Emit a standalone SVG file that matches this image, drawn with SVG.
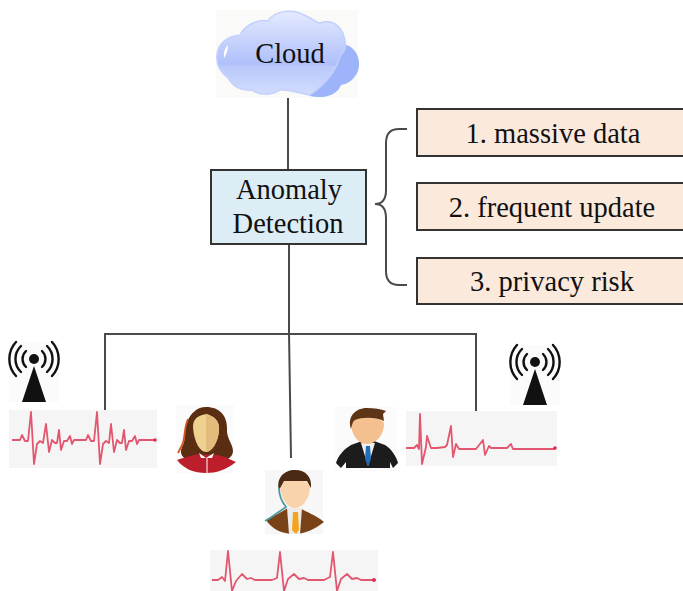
<svg xmlns="http://www.w3.org/2000/svg" width="683" height="591" viewBox="0 0 683 591">
<style>
.t{font-family:"Liberation Serif","Times New Roman",serif;font-size:28.5px;fill:#111;text-anchor:middle}
.box{stroke:#333;stroke-width:2}
.l{fill:none;stroke:#4a4a4a;stroke-width:2}
.ecg{fill:none;stroke:#e2566f;stroke-width:1.8;stroke-linejoin:round}
.bg{fill:#f5f5f5}
.wave{fill:none;stroke:#111;stroke-width:2.4;stroke-linecap:round}
</style>
<defs>
<linearGradient id="cg" x1="0" y1="0" x2="0" y2="1"><stop offset="0" stop-color="#e4eaff"/><stop offset=".64" stop-color="#aebffa"/><stop offset=".66" stop-color="#bac9fb"/><stop offset="1" stop-color="#d2dcfe"/></linearGradient>
<g id="tower">
<rect x="-25" y="-31" width="50" height="60" fill="#fbfbfb"/>
<circle cx="0" cy="-14" r="5" fill="#111"/>
<path class="wave" d="M-8-22A11 11 0 0 0-8-6M8-22A11 11 0 0 1 8-6M-13-27A18 18 0 0 0-13-1M13-27A18 18 0 0 1 13-1M-18-31A25 25 0 0 0-18 3M18-31A25 25 0 0 1 18 3"/>
<path d="M0-7L12 29H-12Z" fill="#111"/>
</g>
</defs>
<g id="connectors">
<path class="l" d="M288 97V170M289 243V333M105 410V334H476V411M289 333L291 458"/>
<path class="l" d="M407 129H399Q386 129 386 143V190Q386 204 375 204Q386 204 386 218V271Q386 285 399 285H407"/>
</g>
<g id="cloud">
<rect x="216" y="10" width="142" height="88" fill="#fafaf8"/>
<path d="M342 44C353 45 360 55 359 66C358 77 349 84 341 85C337 96 322 99 310 96L296 70Z" fill="#9db4fb"/>
<path d="M217 55C218 43 228 36 240 35C245 25 258 19 268 21C274 11 292 8 304 15C312 18 316 23 320 23C332 18 342 27 344 37C347 46 345 52 340 56C336 72 324 85 310 95C298 93 290 89 280 90C272 96 258 95 252 90C240 91 232 85 228 78C220 72 216 64 217 55Z" fill="url(#cg)" stroke="#c2d0fc" stroke-width="1.5"/>
<path d="M228 45Q223 50 224 58Q228 52 228 45Z" fill="#fff"/>
<text class="t" x="290" y="63">Cloud</text>
</g>
<g id="anomaly">
<rect class="box" x="211" y="170" width="155" height="74" fill="#dcedf5"/>
<text class="t" x="289" y="199">Anomaly</text>
<text class="t" x="288" y="233">Detection</text>
</g>
<g id="issue1">
<rect class="box" x="417" y="109" width="270" height="47" fill="#fbe9dc"/>
<text class="t" x="553" y="143">1. massive data</text>
</g>
<g id="issue2">
<rect class="box" x="417" y="183" width="270" height="47" fill="#fbe9dc"/>
<text class="t" x="552" y="217">2. frequent update</text>
</g>
<g id="issue3">
<rect class="box" x="417" y="258" width="270" height="46" fill="#fbe9dc"/>
<text class="t" x="552" y="291">3. privacy risk</text>
</g>
<g id="tower-left"><use href="#tower" x="34" y="373"/></g>
<g id="tower-right"><use href="#tower" x="535" y="376"/></g>
<g id="ecg-left">
<rect class="bg" x="9" y="410" width="148" height="58"/>
<path class="ecg" d="M12 440H20L22 435L25 441H28L31 412L34 464L37 444L40 441L43 443L46 424L49 452L52 440L55 443H57L59 430L61 450L64 441H67L70 436L72 444L74 440H86L88 435L91 441H94L97 412L100 464L103 444L106 441L109 443L111 424L114 452L117 440L120 443H122L124 430L126 450L129 441H132L135 436L137 444L139 440H155"/>
<circle cx="155" cy="440" r="1.8" fill="#d8304f"/>
</g>
<g id="ecg-right">
<rect class="bg" x="406" y="411" width="151" height="55"/>
<path class="ecg" d="M406 448H414L417 445L419 449L420 414L422 464L426 447L427 436L431 448H437L445 447L447 445L451 426L453 457L456 444L459 449H476L483 440L485 455L489 446L491 448H507L511 444L513 449H555"/>
<circle cx="555" cy="448" r="1.8" fill="#d8304f"/>
</g>
<g id="ecg-bottom">
<rect class="bg" x="210" y="550" width="168" height="41"/>
<path class="ecg" d="M212 580H218L222 577L225 581L228 551L232 591L236 581L242 574L247 579L251 578L255 580H272L277 578L280 552L284 591L288 579L294 574L299 579L304 578L308 580H324L330 577L333 552L337 591L341 579L347 574L352 579L357 578L361 580H374"/>
<circle cx="374" cy="580" r="2" fill="#d8304f"/>
</g>
<g id="woman">
<rect x="176" y="405" width="58" height="68" fill="#fbfbfb"/>
<path d="M206 407C220 407 227 416 227 428C226 438 233 444 233 451C233 458 224 462 218 463H194C186 460 178 456 182 447C187 438 183 430 187 422C191 413 197 407 206 407Z" fill="#5b2e14"/>
<path d="M188 419C183 430 186 440 181 447L178 453" fill="none" stroke="#d9561c" stroke-width="1.8"/>
<path d="M193 427C193 418 199 415 207 414C215 417 220 421 219 431C218 442 212 452 206 452C200 452 194 442 193 427Z" fill="#eed08f"/>
<path d="M206 414C215 417 220 421 219 431C218 442 212 452 206 452Z" fill="#e1bc7c"/>
<path d="M177 460C190 456 198 453 206 455C216 453 224 456 236 462C226 470 216 473 206 473C194 473 184 469 177 460Z" fill="#bd1e2b"/>
<path d="M199 453L206 458L214 453L212 458H201Z" fill="#fff"/>
<path d="M207 458V473" stroke="#fff" stroke-width="1"/>
</g>
<g id="man-right">
<rect x="335" y="407" width="62" height="64" fill="#fbfbfb"/>
<path d="M351 445L362 441H374L385 445C392 449 397 458 398 463L393 468L390 462V468H346V462L341 468L336 463C338 456 344 449 351 445Z" fill="#1c1c1c"/>
<path d="M361 443H375L368 466Z" fill="#eee"/>
<path d="M366 446H370L371 459L368 466L365 459Z" fill="#1f6fb8"/>
<path d="M351 422C351 414 385 416 384 424C384 435 376 444 367 444C358 444 351 435 351 422Z" fill="#f5c08f"/>
<path d="M351 429C347 417 355 408 367 408C374 408 381 409 386 411L383 414L384 421C376 417 362 417 355 420C352 422 352 426 351 429Z" fill="#5e3417"/>
</g>
<g id="man-bottom">
<rect x="265" y="470" width="58" height="64" fill="#f7f7f7"/>
<path d="M266 520C275 515 282 512 288 508H300C306 512 316 515 324 522C314 530 304 534 294 534C282 534 272 529 266 520Z" fill="#7a4317"/>
<path d="M287 508H302L300 534H289Z" fill="#ececec"/>
<path d="M293 512H298L299 530L296 534L292 530Z" fill="#f5a31c"/>
<path d="M280 484C280 478 310 478 310 486C310 498 303 508 295 508C287 508 280 498 280 484Z" fill="#f8d3ac"/>
<path d="M279 490C276 478 284 470 295 470C306 470 312 477 311 488L307 481H284Z" fill="#4a2a12"/>
<path d="M279 488C279 496 282 502 286 507L270 518L265 521" fill="none" stroke="#4f98a3" stroke-width="1.8"/>
</g>
</svg>
